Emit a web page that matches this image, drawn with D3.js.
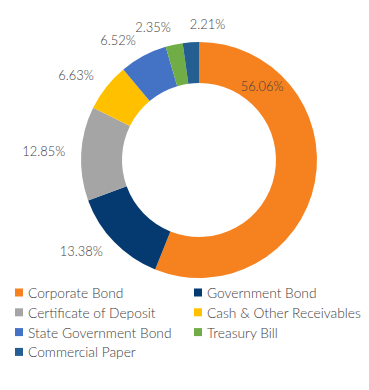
<!DOCTYPE html>
<html><head><meta charset="utf-8">
<script src="https://cdn.jsdelivr.net/npm/d3@7"></script>
<style>
html,body{margin:0;padding:0;background:#fff;}
svg text{font-family:Lato,"Open Sans",sans-serif;fill:#404040;font-weight:300;}
</style></head>
<body><svg id="c" width="369" height="390"></svg>
<script>
const categories = ["Corporate Bond","Government Bond","Certificate of Deposit","Cash & Other Receivables","State Government Bond","Treasury Bill","Commercial Paper"];
const values = [56.06,13.38,12.85,6.63,6.52,2.35,2.21];
const colors = ["#F5821F","#053A70","#A5A5A5","#FFC000","#4472C4","#70AD47","#255E91"];
const labels = ["56.06%","13.38%","12.85%","6.63%","6.52%","2.35%","2.21%"];

const svg = d3.select("#c");
const cx = 199, cy = 160, rOut = 118, rIn = 77, rLab = 134;

// fit font sizes to the reference text widths
function fitSize(str, target, base){
  const t = svg.append("text").attr("font-size",base).text(str);
  const w = t.node().getComputedTextLength();
  t.remove();
  return base*target/w;
}
const legFs = fitSize("Cash & Other Receivables",154,13);
const labFs = fitSize("12.85%",43,13);

const data = categories.map((c,i)=>({c, v:values[i], col:colors[i], lab:labels[i]}));
const pie = d3.pie().value(d=>d.v).sort(null);
const arcs = pie(data);
const arc = d3.arc().innerRadius(rIn).outerRadius(rOut);
const g = svg.append("g").attr("transform",`translate(${cx},${cy})`);
g.selectAll("path").data(arcs).enter().append("path")
  .attr("d",arc).attr("fill",d=>d.data.col);

arcs.forEach((a,i)=>{
  if(i===0){
    const ang = a.startAngle + 0.2*(a.endAngle-a.startAngle);
    const r = (rIn+rOut)/2;
    g.append("text").attr("x",Math.sin(ang)*r).attr("y",-Math.cos(ang)*r)
      .attr("text-anchor","middle").attr("dominant-baseline","central")
      .attr("font-size",labFs).text(a.data.lab);
  } else {
    const ang = (a.startAngle+a.endAngle)/2;
    const s = Math.sin(ang), c = -Math.cos(ang);
    g.append("text").attr("x",s*rLab).attr("y",c*rLab-2)
      .attr("text-anchor", s < -0.2 ? "end" : "start")
      .attr("dominant-baseline","central")
      .attr("font-size",labFs).text(a.data.lab);
  }
});

// legend
const lx = [15,194], ly0 = 292.5, dy = 19.8;
const lg = svg.append("g");
data.forEach((d,i)=>{
  const col = i%2, row = Math.floor(i/2);
  const x = lx[col], y = ly0 + row*dy;
  lg.append("rect").attr("x",x).attr("y",y-4).attr("width",8).attr("height",8).attr("fill",d.col);
  lg.append("text").attr("x",x+13).attr("y",y).attr("dominant-baseline","central")
    .attr("font-size",legFs).text(d.c);
});
</script></body></html>
